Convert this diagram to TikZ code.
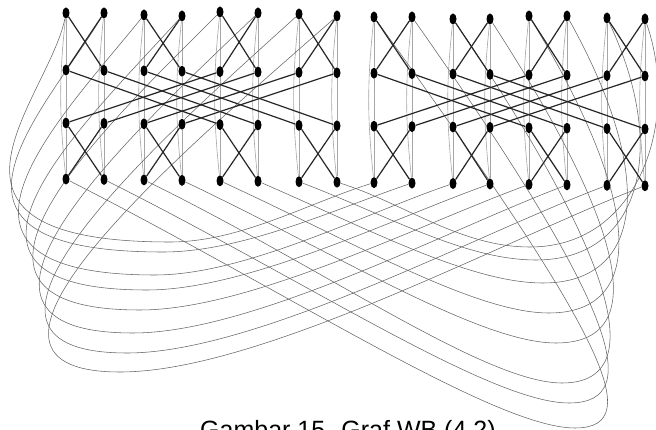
\documentclass[tikz,border=0pt]{standalone}
\usepackage{fontspec}
\setmainfont{Liberation Sans}
\usetikzlibrary{shapes.geometric}
\pgfdeclarelayer{bg}
\pgfsetlayers{bg,main}
\begin{document}
\begin{tikzpicture}[x=1pt,y=-1pt,
  vtx/.style={ellipse, fill=black, draw=none, minimum width=7pt, minimum height=11pt, inner sep=0pt},
  straight/.style={draw=black!35, line width=0.6pt},
  cross/.style={draw=black!85, line width=1.2pt},
  wrap/.style={draw=black!60, line width=0.55pt},
  caption/.style={font=\fontsize{25}{30}\selectfont, inner sep=0pt, anchor=base west}]
\useasboundingbox (0,0) rectangle (656,430);
\clip (0,0) rectangle (656,430);
% vertices
\foreach \c/\x/\t in {0/66/13,1/104/13,2/144/15,3/182/16,4/220/12,5/258/13,6/299/14,7/337/16,
                      8/374/17,9/412/17,10/453/19,11/490/19,12/529/16,13/567/16,14/607/18,15/645/19}{
  \node[vtx] (r0-\c) at (\x,\t) {};
  \node[vtx] (r1-\c) at (\x,{70+0.4*\c}) {};
  \node[vtx] (r2-\c) at (\x,{123+0.4*\c}) {};
  \node[vtx] (r3-\c) at (\x,{179+0.45*\c}) {};
}
\begin{pgfonlayer}{bg}
% straight edges
\foreach \c in {0,...,15}{
  \draw[straight] (r0-\c) -- (r1-\c);
  \draw[straight] (r1-\c) -- (r2-\c);
  \draw[straight] (r2-\c) -- (r3-\c);
  \draw[straight] (r0-\c) to[bend right=6] (r3-\c);
}
% wrap-around loops on the left
\foreach \j/\k/\cx/\cy/\mx/\my/\p/\q/\dx/\dy in {
  0/8/-17/86/170/242/270/70/-67/21,
  1/9/-60/100/163/252/260/80/-77/26,
  2/10/-85/105/155/275/250/90/-88/30,
  3/11/-100/110/147/290/240/100/-98/35,
  4/12/-115/115/140/310/230/110/-109/40,
  5/13/-125/120/133/333/220/120/-119/45,
  6/14/-138/125/127/353/210/130/-130/49,
  7/15/-149/131/120/372/200/140/-140/54}{
  \draw[wrap] (r0-\j) .. controls +(\cx,\cy) and +(-\p,0) .. (\mx,\my)
              .. controls +(\q,0) and +(\dx,\dy) .. (r3-\k);
}
% wrap-around loops on the right
\foreach \j/\k/\cx/\cy/\nx/\ny/\p/\q/\dx/\dy in {
  15/7/35/101/530/247/110/70/67/21,
  14/6/62/131/536/260/105/71/89/34,
  13/5/90/162/543/283/100/73/111/48,
  12/4/117/192/549/313/95/74/133/61,
  11/3/144/222/556/343/90/76/156/74,
  10/2/171/252/562/383/85/77/178/87,
  9/1/199/283/569/403/80/79/200/100,
  8/0/226/313/575/428/75/80/222/113}{
  \draw[wrap] (r0-\j) .. controls +(\cx,\cy) and +(\p,0) .. (\nx,\ny)
              .. controls +(-\q,0) and +(\dx,\dy) .. (r3-\k);
}
% cross edges
\foreach \a/\b in {0/1,1/0,2/3,3/2,4/5,5/4,6/7,7/6,8/9,9/8,10/11,11/10,12/13,13/12,14/15,15/14}{
  \draw[cross] (r0-\a) -- (r1-\b);
  \draw[cross] (r2-\a) -- (r3-\b);
}
\foreach \a/\b in {0/4,1/5,2/6,3/7,4/0,5/1,6/2,7/3,8/12,9/13,10/14,11/15,12/8,13/9,14/10,15/11}{
  \draw[cross] (r1-\a) -- (r2-\b);
}
\end{pgfonlayer}
\node[caption] (cap) at (200,438) {Gambar 15. Graf WB (4,2)};
\end{tikzpicture}
\end{document}
